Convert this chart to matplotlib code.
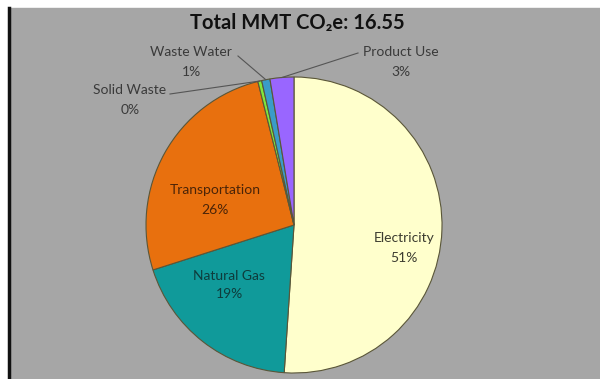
import numpy as np
import matplotlib.pyplot as plt

# emissions by sector, MMT CO2e (total 16.55)
sectors = ["Electricity", "Natural Gas", "Transportation",
           "Solid Waste", "Waste Water", "Product Use"]
mmt = [8.45, 3.15, 4.30, 0.07, 0.15, 0.43]
colors = ["#FFFFCC", "#109A9A", "#E8700E", "#7FE83C", "#3A9CC8", "#9966FF"]
total = sum(mmt)

W, H = 600, 379
fig = plt.figure(figsize=(W / 100, H / 100), dpi=100)
fig.patch.set_facecolor("white")
ax = fig.add_axes([0, 0, 1, 1])
ax.set_xlim(0, W)
ax.set_ylim(0, H)
ax.set_aspect("equal")
ax.axis("off")

# grey plot area with a dark left border
ax.add_patch(plt.Rectangle((9, 0), W - 9, H - 8, color="#A6A6A6", zorder=0))
ax.plot([8.5, 8.5], [0, H - 8], color="#111111", lw=2.5, zorder=1)

cx, cy, r = 294, H - 225, 148
wedges, _ = ax.pie(mmt, colors=colors, startangle=90, counterclock=False,
                   center=(cx, cy), radius=r,
                   wedgeprops=dict(edgecolor="#5A5638", linewidth=0.8))
ax.set_xlim(0, W)
ax.set_ylim(0, H)

font = ["Lato", "DejaVu Sans"]
pct = [f"{v / total * 100:.0f}%" for v in mmt]

# labels inside the big slices
inside = {0: (404, 248), 1: (229, 285), 2: (215, 200)}
txt_col = {0: "#3C3C30", 1: "#0E3C3C", 2: "#4A2408"}
for i, (x, y) in inside.items():
    ax.text(x, H - y, f"{sectors[i]}\n{pct[i]}", ha="center", va="center",
            fontsize=10, family=font, color=txt_col[i], linespacing=1.7)

# small slices get labels outside with leader lines
outside = {3: ((130, 100), (170, 94)),
           4: ((191, 62), (238, 56)),
           5: ((401, 62), (358, 53))}
for i, ((x, y), (lx, ly)) in outside.items():
    ax.text(x, H - y, f"{sectors[i]}\n{pct[i]}", ha="center", va="center",
            fontsize=10, family=font, color="#3A3A3A", linespacing=1.7)
    w = wedges[i]
    mid = np.deg2rad((w.theta1 + w.theta2) / 2)
    px, py = cx + r * np.cos(mid), cy + r * np.sin(mid)
    ax.plot([lx, px], [H - ly, py], color="#555555", lw=0.8)

ax.text(297, H - 23, "Total MMT CO\u2082e: 16.55", ha="center", va="center",
        fontsize=14.5, fontweight="bold", family=font, color="#111111")

fig.savefig("out.png", dpi=100)
